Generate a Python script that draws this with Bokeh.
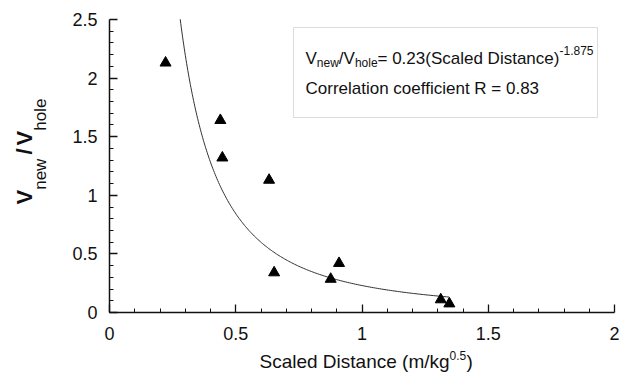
import numpy as np
from bokeh.plotting import figure
from bokeh.models import Label, BoxAnnotation, FixedTicker, Range1d
from bokeh.embed import file_html
from bokeh.resources import INLINE

# ---- data ----
scaled_distance = [0.222, 0.439, 0.447, 0.632, 0.652, 0.876, 0.909, 1.312, 1.346]
v_ratio = [2.13, 1.64, 1.32, 1.13, 0.34, 0.285, 0.42, 0.11, 0.075]

# fitted curve stated on the chart: V_new/V_hole = 0.23 (Scaled Distance)^-1.875
fit_coef = 0.23
fit_exp = -1.875
fit_x_start = 0.28
fit_x_end = 1.345

x_ticks = [0, 0.5, 1, 1.5, 2]
x_tick_labels = ["0", "0.5", "1", "1.5", "2"]
y_ticks = [0, 0.5, 1, 1.5, 2, 2.5]
y_tick_labels = ["0", "0.5", "1", "1.5", "2", "2.5"]

FONT = "Liberation Sans"
W, H = 622, 374
FL, FR, FT, FB = 109, 614, 19, 312   # plot-area edges in pixels
XMIN, XMAX, YMIN, YMAX = 0, 2, 0, 2.5
XS = (XMAX - XMIN) / (FR - FL)
YS = (YMAX - YMIN) / (FB - FT)

def px_x(px):
    return XMIN + (px - FL) * XS

def px_y(py):
    return YMIN + (FB - py) * YS

# frame covers the whole canvas so that titles drawn as labels are not clipped;
# the axes sit at fixed locations (x=0, y=0) with bounds on the data range
p = figure(width=W, height=H, output_backend="svg", toolbar_location=None,
           x_range=Range1d(px_x(0), px_x(W)), y_range=Range1d(px_y(H), px_y(0)),
           min_border=0, min_border_left=0, min_border_right=0,
           min_border_top=0, min_border_bottom=0)
p.outline_line_color = None
p.grid.visible = False
p.background_fill_color = "white"
p.border_fill_color = "white"

# annotation box
p.add_layout(BoxAnnotation(left=px_x(293), right=px_x(597), top=px_y(27),
                           bottom=px_y(117), fill_color="white", fill_alpha=0,
                           line_color="#8a8a8a", line_width=1, level="underlay"))

# fit curve
fx = np.geomspace(fit_x_start, fit_x_end, 200)
fy = fit_coef * fx ** fit_exp
p.line(fx, fy, line_color="#333333", line_width=1)

# data points
p.scatter(scaled_distance, v_ratio, marker="triangle", size=11,
          fill_color="black", line_color="black")

# axes
minor_x = [t for t in np.arange(0, 2.0001, 0.1).round(2) if t not in x_ticks]
minor_y = [t for t in np.arange(0, 2.5001, 0.1).round(2) if t not in y_ticks]
p.xaxis.ticker = FixedTicker(ticks=x_ticks, minor_ticks=minor_x)
p.yaxis.ticker = FixedTicker(ticks=y_ticks, minor_ticks=minor_y)
p.xaxis.major_label_overrides = dict(zip(x_ticks, x_tick_labels))
p.yaxis.major_label_overrides = dict(zip(y_ticks, y_tick_labels))
p.xaxis.fixed_location = YMIN
p.yaxis.fixed_location = XMIN
p.xaxis.bounds = (XMIN, XMAX)
p.yaxis.bounds = (YMIN, YMAX)
for ax in (p.xaxis, p.yaxis):
    ax.axis_line_width = 1.5
    ax.axis_line_color = "#111111"
    ax.major_tick_in = 8
    ax.major_tick_out = 0
    ax.minor_tick_in = 4
    ax.minor_tick_out = 0
    ax.major_tick_line_color = "#111111"
    ax.minor_tick_line_color = "#111111"
    ax.major_tick_line_width = 1.3
    ax.minor_tick_line_width = 1
    ax.major_label_text_font = FONT
    ax.major_label_text_font_size = "18px"
    ax.major_label_text_color = "#111111"
p.xaxis.major_label_standoff = 14
p.yaxis.major_label_standoff = 12

def add_text(txt, px, py, size, bold=False, angle=0.0):
    p.add_layout(Label(x=px_x(px), y=px_y(py), text=txt, text_font=FONT,
                       text_font_size=f"{size}px",
                       text_font_style="bold" if bold else "normal",
                       text_color="#111111", text_align="left",
                       text_baseline="alphabetic", angle=angle,
                       angle_units="rad", level="overlay"))

b1 = 58
add_text("V", 305, b1, 17)
add_text("new", 316.3, b1 + 4, 12)
add_text("/V", 338.3, b1, 17)
add_text("hole", 354.4, b1 + 4, 12)
add_text("= 0.23(Scaled Distance)", 377, b1, 17)
add_text("-1.875", 559, b1 - 8, 12)
add_text("Correlation coefficient R = 0.83", 305, 88, 17)

# x axis title
add_text("Scaled Distance (m/kg", 259, 361, 19)
add_text("0.5", 449, 355, 12)
add_text(")", 466, 361, 19)

# y axis title (rotated)
a = np.pi / 2
add_text("V", 24, 204, 22, bold=True, angle=a)
add_text("new", 40, 189.3, 17, angle=a)
add_text("/", 24, 154, 22, bold=True, angle=a)
add_text("V", 24, 145, 22, bold=True, angle=a)
add_text("hole", 40, 130.3, 17, angle=a)

open("out.html", "w").write(file_html(p, INLINE))
